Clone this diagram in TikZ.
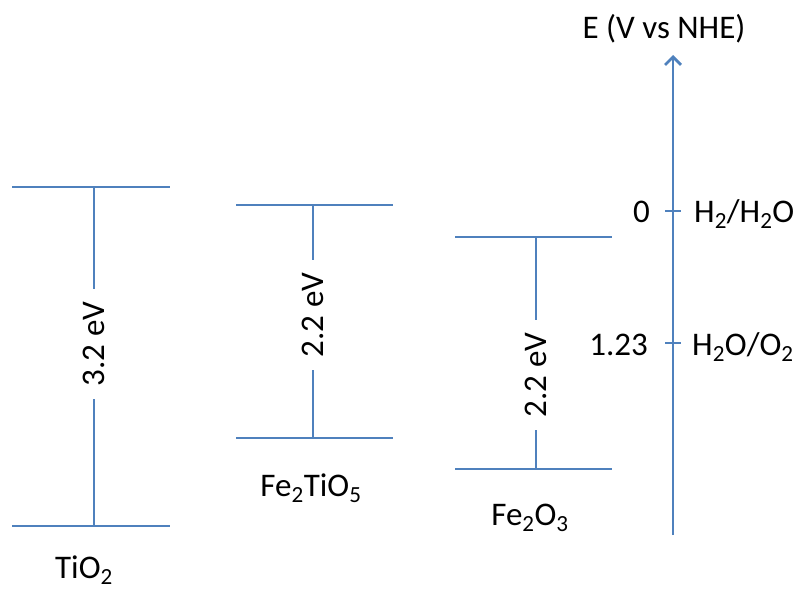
\documentclass[tikz,border=0pt]{standalone}
\usepackage{fontspec}
\setmainfont{Carlito}
\usetikzlibrary{arrows.meta}
\definecolor{bandblue}{RGB}{79,129,189}
\begin{document}
\begin{tikzpicture}[x=1pt,y=-1pt,
  band/.style={draw=bandblue,line width=2.8pt},
  gapline/.style={draw=bandblue,line width=1.8pt},
  tickline/.style={draw=bandblue,line width=1.8pt},
  gaplabel/.style={rotate=90,inner xsep=13pt,inner ysep=0pt,font=\fontsize{33}{36}\selectfont},
  lbl/.style={font=\fontsize{33}{36}\selectfont,inner sep=0pt}]
\useasboundingbox (0,0) rectangle (798,592);
% TiO2
\coordinate (aCl) at (12,187); \coordinate (aCr) at (170,187);
\coordinate (aVl) at (12,526); \coordinate (aVr) at (170,526);
\coordinate (aT) at (94,187); \coordinate (aB) at (94,526);
\draw[band] (aCl) -- (aCr);
\draw[band] (aVl) -- (aVr);
\node[gaplabel] (ga) at (94,344) {3.2 eV};
\draw[gapline] (aT) -- (ga.east);
\draw[gapline] (ga.west) -- (aB);
\node[lbl,anchor=base] (na) at (84,578) {TiO\textsubscript{2}};
% Fe2TiO5
\coordinate (bCl) at (236,205); \coordinate (bCr) at (393,205);
\coordinate (bVl) at (236,438); \coordinate (bVr) at (393,438);
\coordinate (bT) at (313,205); \coordinate (bB) at (313,438);
\draw[band] (bCl) -- (bCr);
\draw[band] (bVl) -- (bVr);
\node[gaplabel] (gb) at (313,315) {2.2 eV};
\draw[gapline] (bT) -- (gb.east);
\draw[gapline] (gb.west) -- (bB);
\node[lbl,anchor=base] (nb) at (311,496) {Fe\textsubscript{2}TiO\textsubscript{5}};
% Fe2O3
\coordinate (cCl) at (455,237); \coordinate (cCr) at (612,237);
\coordinate (cVl) at (455,469); \coordinate (cVr) at (612,469);
\coordinate (cT) at (536,237); \coordinate (cB) at (536,469);
\draw[band] (cCl) -- (cCr);
\draw[band] (cVl) -- (cVr);
\node[gaplabel] (gc) at (536,375) {2.2 eV};
\draw[gapline] (cT) -- (gc.east);
\draw[gapline] (gc.west) -- (cB);
\node[lbl,anchor=base] (nc) at (530,525) {Fe\textsubscript{2}O\textsubscript{3}};
% axis
\coordinate (axb) at (673,535); \coordinate (axt) at (673,55);
\draw[band,-{Straight Barb[length=8pt,width=16pt]}] (axb) -- (axt);
\node[lbl,anchor=base] (axl) at (664,38) {E (V vs NHE)};
\coordinate (t0l) at (665,211); \coordinate (t0r) at (681,211);
\coordinate (t1l) at (665,343); \coordinate (t1r) at (681,343);
\draw[tickline] (t0l) -- (t0r);
\draw[tickline] (t1l) -- (t1r);
\node[lbl,anchor=base east] (v0) at (650,222) {0};
\node[lbl,anchor=base east] (v1) at (648,355) {1.23};
\node[lbl,anchor=base west] (r0) at (694,222) {H\textsubscript{2}/H\textsubscript{2}O};
\node[lbl,anchor=base west] (r1) at (692,355) {H\textsubscript{2}O/O\textsubscript{2}};
\end{tikzpicture}
\end{document}
